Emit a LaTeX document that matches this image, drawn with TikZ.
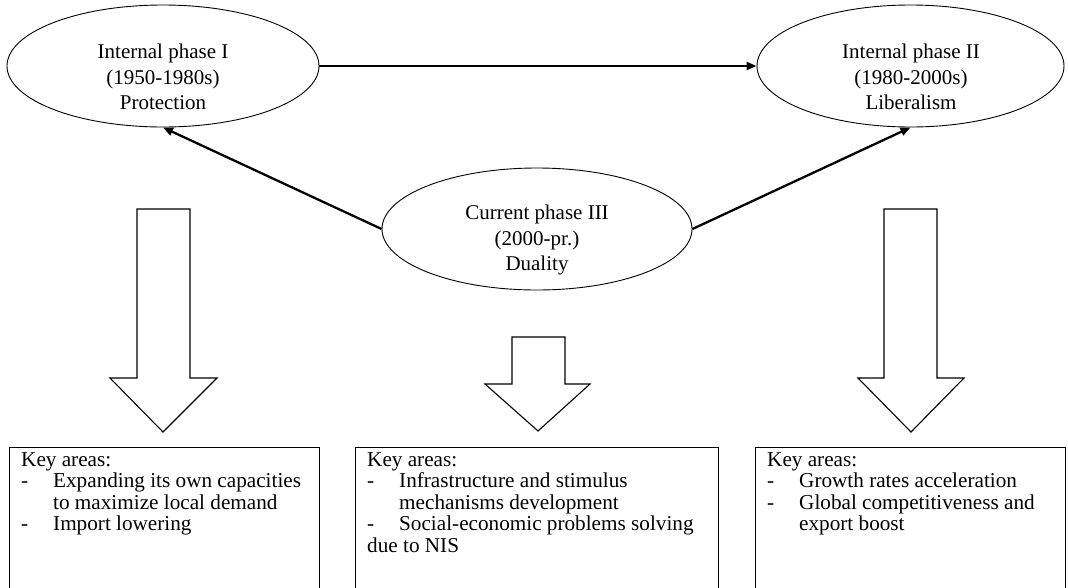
\documentclass[tikz,border=0pt]{standalone}
\usepackage{fontspec}
\setmainfont{Liberation Serif}
\usetikzlibrary{shapes.geometric,arrows.meta}
\tikzset{
  phase/.style={ellipse, draw, line width=0.9pt, minimum width=#1, minimum height=122pt, inner sep=0pt},
  phasetext/.style={align=center, inner sep=0pt, font=\fontsize{21}{25.5}\selectfont},
  link/.style={line width=2.3pt, -{Triangle[length=10pt,width=8pt]}},
  blockarrow/.style={draw, line width=1.1pt, fill=white, line join=miter},
  keybox/.style={draw, line width=0.9pt},
  keytext/.style={align=left, inner sep=0pt, anchor=north west, font=\fontsize{21.2}{21.6}\selectfont},
}
\newcommand{\itm}{\makebox[32pt][l]{-}}
\newcommand{\ind}{\hspace*{32pt}}
\begin{document}
\begin{tikzpicture}[x=1pt,y=-1pt]
\useasboundingbox (0,0) rectangle (1068,587);
\clip (0,0) rectangle (1068,587);

% ellipses
\node[phase=312pt] (e1) at (163,66) {};
\node[phase=307pt] (e2) at (910.5,66) {};
\node[phase=310pt] (e3) at (537,229) {};
\node[phasetext] (e1t) at (163,77) {Internal phase I\\(1950-1980s)\\Protection};
\node[phasetext] (e2t) at (911,77) {Internal phase II\\(1980-2000s)\\Liberalism};
\node[phasetext] (e3t) at (537,240) {Current phase III\\(2000-pr.)\\Duality};

% connectors
\draw[link] (e1.east) -- (e2.west);
\draw[link] (e3.west) -- (e1.south);
\draw[link] (e3.east) -- (e2.south);

% block arrows
\draw[blockarrow] (137,209) -- (190,209) -- (190,378) -- (217,378) -- (163,432) -- (110,378) -- (137,378) -- cycle;
\draw[blockarrow] (512,337) -- (565,337) -- (565,384) -- (590,384) -- (538,431) -- (485,384) -- (512,384) -- cycle;
\draw[blockarrow] (884,209) -- (937,209) -- (937,378) -- (964,378) -- (911,432) -- (858,378) -- (884,378) -- cycle;

% boxes
\draw[keybox] (9,447) rectangle (319,620);
\draw[keybox] (355,447) rectangle (718,620);
\draw[keybox] (755,447) rectangle (1065,620);

\node[keytext] (k1) at (21,452) {Key areas:\\\itm Expanding its own capacities\\\ind to maximize local demand\\\itm Import lowering};
\node[keytext] (k2) at (367,452) {Key areas:\\\itm Infrastructure and stimulus\\\ind mechanisms development\\\itm Social-economic problems solving\\due to NIS};
\node[keytext] (k3) at (767,452) {Key areas:\\\itm Growth rates acceleration\\\itm Global competitiveness and\\\ind export boost};
\end{tikzpicture}
\end{document}
